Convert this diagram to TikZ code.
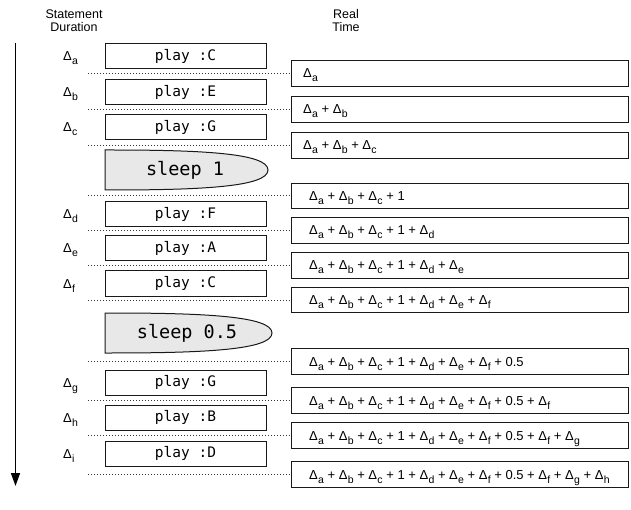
\documentclass[tikz,border=0pt]{standalone}
\usepackage{fontspec}
\setmainfont{Liberation Sans}
\newfontfamily\monof{DejaVu Sans Mono}
\usetikzlibrary{arrows.meta}
\newcommand\dsub[1]{Δ\kern0.3pt\raisebox{-4pt}{\fontsize{10.5}{10.5}\selectfont #1}}
\tikzset{
  x=1pt, y=-1pt,
  hdr/.style={font=\fontsize{12.5}{13}\selectfont, align=center, inner sep=0pt},
  playbox/.style={draw=black!90, line width=1pt, minimum width=161pt, minimum height=25pt, inner sep=0pt, font=\monof\fontsize{14.5}{15}\selectfont},
  sleepshape/.style={draw=black!90, line width=1pt, fill=black!9, line join=miter},
  sleeptext/.style={font=\monof\fontsize{18.5}{19}\selectfont, inner sep=0pt},
  dlabel/.style={anchor=base west, inner sep=0pt, font=\fontsize{13}{14}\selectfont},
  rbox/.style={draw=black!90, line width=1pt, anchor=west, minimum width=337pt, minimum height=25.5pt, inner sep=0pt},
  rtext/.style={anchor=base west, inner sep=0pt, font=\fontsize{13}{14}\selectfont},
  dotline/.style={line width=1pt, black!80, dash pattern=on 1pt off 2pt},
  timearrow/.style={line width=1.6pt, -{Triangle[width=9pt,length=13pt]}}
}
\begin{document}
\begin{tikzpicture}
\useasboundingbox (0,0) rectangle (631,510);
% headers
\node[hdr] (hdrL) at (74,21) {Statement\\Duration};
\node[hdr] (hdrR) at (346,21) {Real\\Time};
% time arrow
\coordinate (arrTop) at (15.5,43);
\coordinate (arrBot) at (15.5,486);
\draw[timearrow] (arrTop) -- (arrBot);
% play boxes
\node[playbox] (p1) at (185.5,56.5) {play :C};
\node[playbox] (p2) at (185.5,92) {play :E};
\node[playbox] (p3) at (185.5,127.5) {play :G};
\node[playbox] (p4) at (185.5,214) {play :F};
\node[playbox] (p5) at (185.5,248.5) {play :A};
\node[playbox] (p6) at (185.5,283.5) {play :C};
\node[playbox] (p7) at (185.5,382.5) {play :G};
\node[playbox] (p8) at (185.5,417.5) {play :B};
\node[playbox] (p9) at (185.5,453.5) {play :D};
% sleep shapes
\draw[sleepshape] (105,190) -- (105,150) -- (110,150) .. controls (200,150) and (268,153) .. (268,170)
  .. controls (268,187) and (200,190) .. (110,190) -- cycle;
\node[sleeptext] (s1) at (185,170) {sleep 1};
\draw[sleepshape] (105,353) -- (105,313) -- (110,313) .. controls (203,313) and (272,316) .. (272,333)
  .. controls (272,350) and (203,353) .. (110,353) -- cycle;
\node[sleeptext] (s2) at (187,333) {sleep 0.5};
% duration labels
\node[dlabel] (l1) at (63,61) {\dsub{a}};
\node[dlabel] (l2) at (63,96.5) {\dsub{b}};
\node[dlabel] (l3) at (63,132) {\dsub{c}};
\node[dlabel] (l4) at (63,218.5) {\dsub{d}};
\node[dlabel] (l5) at (63,253) {\dsub{e}};
\node[dlabel] (l6) at (63,288) {\dsub{f}};
\node[dlabel] (l7) at (63,387) {\dsub{g}};
\node[dlabel] (l8) at (63,422) {\dsub{h}};
\node[dlabel] (l9) at (63,458) {\dsub{i}};
% real time boxes
\foreach \i/\y in {1/73.5,2/109.5,3/145.5,4/196,5/230.5,6/265.5,7/300,8/361.5,9/400.5,10/435.5,11/474.5}{
  \node[rbox] (r\i) at (291,\y) {};
  \coordinate (d\i) at (88,\y);
}
\node[rtext] (t1) at ([shift={(12,4.5)}]r1.west) {\dsub{a}};
\node[rtext] (t2) at ([shift={(12,4.5)}]r2.west) {\dsub{a} + \dsub{b}};
\node[rtext] (t3) at ([shift={(12,4.5)}]r3.west) {\dsub{a} + \dsub{b} + \dsub{c}};
\node[rtext] (t4) at ([shift={(18,4.5)}]r4.west) {\dsub{a} + \dsub{b} + \dsub{c} + 1};
\node[rtext] (t5) at ([shift={(18,4.5)}]r5.west) {\dsub{a} + \dsub{b} + \dsub{c} + 1 + \dsub{d}};
\node[rtext] (t6) at ([shift={(18,4.5)}]r6.west) {\dsub{a} + \dsub{b} + \dsub{c} + 1 + \dsub{d} + \dsub{e}};
\node[rtext] (t7) at ([shift={(18,4.5)}]r7.west) {\dsub{a} + \dsub{b} + \dsub{c} + 1 + \dsub{d} + \dsub{e} + \dsub{f}};
\node[rtext] (t8) at ([shift={(18,4.5)}]r8.west) {\dsub{a} + \dsub{b} + \dsub{c} + 1 + \dsub{d} + \dsub{e} + \dsub{f} + 0.5};
\node[rtext] (t9) at ([shift={(18,4.5)}]r9.west) {\dsub{a} + \dsub{b} + \dsub{c} + 1 + \dsub{d} + \dsub{e} + \dsub{f} + 0.5 + \dsub{f}};
\node[rtext] (t10) at ([shift={(18,4.5)}]r10.west) {\dsub{a} + \dsub{b} + \dsub{c} + 1 + \dsub{d} + \dsub{e} + \dsub{f} + 0.5 + \dsub{f} + \dsub{g}};
\node[rtext] (t11) at ([shift={(18,4.5)}]r11.west) {\dsub{a} + \dsub{b} + \dsub{c} + 1 + \dsub{d} + \dsub{e} + \dsub{f} + 0.5 + \dsub{f} + \dsub{g} + \dsub{h}};
% dotted connectors
\foreach \i in {1,...,11}
  \draw[dotline] (d\i) -- (r\i.west);
\end{tikzpicture}
\end{document}
